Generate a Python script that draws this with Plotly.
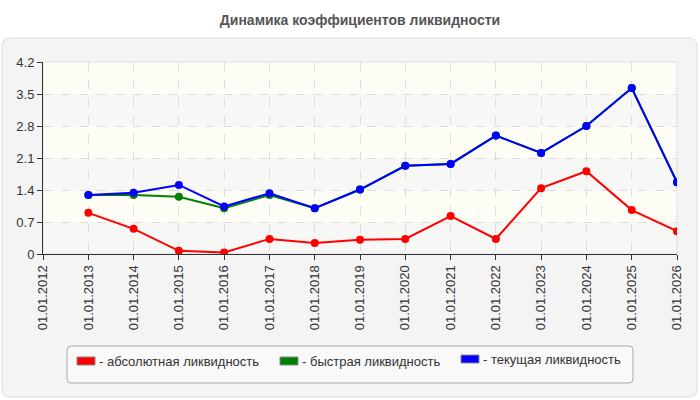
import plotly.graph_objects as go

years = list(range(2013, 2027))
dates = [f"{y}-01-01" for y in years]
tick_dates = [f"{y}-01-01" for y in range(2012, 2027)]
tick_labels = [f"01.01.{y}" for y in range(2012, 2027)]

absolute = [0.90, 0.55, 0.07, 0.035, 0.33, 0.24, 0.31, 0.33, 0.83, 0.33, 1.44, 1.81, 0.96, 0.50]
quick = [1.29, 1.29, 1.25, 1.00, 1.29, 1.00, 1.41, 1.93, 1.97, 2.59, 2.21, 2.80, 3.63, 1.57]
current = [1.29, 1.34, 1.51, 1.04, 1.33, 1.00, 1.41, 1.93, 1.97, 2.59, 2.21, 2.80, 3.63, 1.57]

y_ticks = [0, 0.7, 1.4, 2.1, 2.8, 3.5, 4.2]
y_labels = ["0", "0.7", "1.4", "2.1", "2.8", "3.5", "4.2"]

series_names = ["- абсолютная ликвидность", "- быстрая ликвидность", "- текущая ликвидность"]
colors = ["#ff0000", "#008000", "#0000ff"]

W, H = 700, 400
L, R, T, B = 43, 23, 62, 146
pw, ph = W - L - R, H - T - B


def px(x):
    return (x - L) / pw


def py(y):
    return (H - B - y) / ph


fig = go.Figure()

for name, vals, c in zip(series_names, [absolute, quick, current], colors):
    fig.add_trace(go.Scatter(
        x=dates, y=vals, mode="lines+markers", name=name,
        line=dict(color=c, width=2), marker=dict(color=c, size=8),
        showlegend=False))

shapes = []
# outer panel with rounded corners
x0, x1, y0, y1 = px(2), px(697), py(38), py(397)
r = 8
rx, ry = r / pw, r / ph
path = (f"M {x0+rx},{y0} L {x1-rx},{y0} Q {x1},{y0} {x1},{y0-ry} "
        f"L {x1},{y1+ry} Q {x1},{y1} {x1-rx},{y1} L {x0+rx},{y1} Q {x0},{y1} {x0},{y1+ry} "
        f"L {x0},{y0-ry} Q {x0},{y0} {x0+rx},{y0} Z")
shapes.append(dict(type="path", xref="paper", yref="paper", path=path,
                   fillcolor="#f4f4f4", line=dict(color="#dddddd", width=1), layer="below"))
# background bands
for i in range(len(y_ticks) - 1):
    hatched = (i % 2 == 0)
    shapes.append(dict(type="rect", xref="paper", yref="y", x0=0, x1=1,
                       y0=y_ticks[i], y1=y_ticks[i + 1],
                       fillcolor="#f7f7f5" if hatched else "#fdfdf6",
                       line=dict(width=0), layer="below"))
# plot frame
shapes.append(dict(type="rect", xref="paper", yref="paper", x0=0, x1=1, y0=0, y1=1,
                   line=dict(color="#dddddd", width=1), layer="below"))
# legend box
lx0, lx1, ly0, ly1 = px(67), px(633), py(346), py(383)
r2 = 4
rx2, ry2 = r2 / pw, r2 / ph
path2 = (f"M {lx0+rx2},{ly0} L {lx1-rx2},{ly0} Q {lx1},{ly0} {lx1},{ly0-ry2} "
         f"L {lx1},{ly1+ry2} Q {lx1},{ly1} {lx1-rx2},{ly1} L {lx0+rx2},{ly1} Q {lx0},{ly1} {lx0},{ly1+ry2} "
         f"L {lx0},{ly0-ry2} Q {lx0},{ly0} {lx0+rx2},{ly0} Z")
shapes.append(dict(type="path", xref="paper", yref="paper", path=path2,
                   fillcolor="#f9f9f9", line=dict(color="#aaaaaa", width=1)))

annotations = []
legend_x = [77, 280, 461]
legend_y = [361, 361, 359]
for lxp, lyp, name, c in zip(legend_x, legend_y, series_names, colors):
    shapes.append(dict(type="rect", xref="paper", yref="paper",
                       x0=px(lxp), x1=px(lxp + 18), y0=py(lyp - 4), y1=py(lyp + 4),
                       fillcolor=c, line=dict(color="#888888", width=1)))
    annotations.append(dict(xref="paper", yref="paper", x=px(lxp + 20), y=py(lyp),
                            text=name, showarrow=False, xanchor="left", yanchor="middle",
                            font=dict(family="Liberation Sans, Arial", size=13, color="#333333")))

fig.update_layout(
    width=W, height=H,
    margin=dict(l=L, r=R, t=T, b=B),
    paper_bgcolor="#ffffff", plot_bgcolor="rgba(0,0,0,0)",
    title=dict(text="<b>Динамика коэффициентов ликвидности</b>", x=0.5, xref="paper",
               xanchor="center", y=1 - 20 / H, yanchor="middle",
               font=dict(family="Liberation Sans, Arial", size=14, color="#555555")),
    shapes=shapes, annotations=annotations,
    font=dict(family="Liberation Sans, Arial", size=13, color="#333333"),
    showlegend=False,
)
fig.update_xaxes(type="date", range=[tick_dates[0], tick_dates[-1]],
                 tickvals=tick_dates, ticktext=tick_labels, tickangle=-90,
                 showgrid=True, gridcolor="#dddddd", griddash="dash", gridwidth=1,
                 showline=True, linecolor="#333333", linewidth=1,
                 ticks="outside", ticklen=5, tickcolor="#333333",
                 tickfont=dict(size=13, color="#333333"), zeroline=False)
fig.update_yaxes(range=[0, 4.2], tickvals=y_ticks, ticktext=y_labels,
                 showgrid=True, gridcolor="#dddddd", griddash="dash", gridwidth=1,
                 showline=True, linecolor="#333333", linewidth=1,
                 ticks="outside", ticklen=5, tickcolor="#333333",
                 tickfont=dict(size=13, color="#333333"), zeroline=False)

fig.write_html("out.html")
